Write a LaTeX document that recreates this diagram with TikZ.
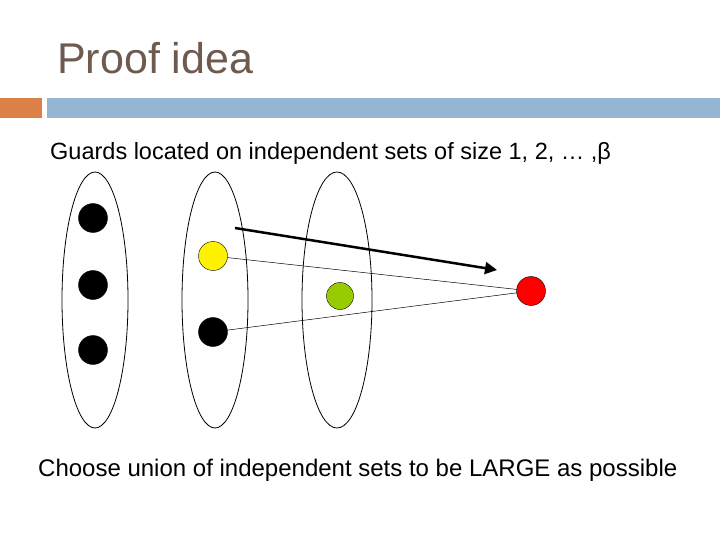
\documentclass[tikz,border=0pt]{standalone}
\usepackage{fontspec}
\setmainfont{Liberation Sans}
\usetikzlibrary{arrows.meta}
\definecolor{titlec}{HTML}{6E5A4E}
\definecolor{barorange}{HTML}{DD8047}
\definecolor{barblue}{HTML}{94B6D2}
\definecolor{gcol}{HTML}{99CC00}
\begin{document}
\begin{tikzpicture}[x=1pt,y=-1pt,
  dot/.style={circle,draw=black,minimum size=29pt,inner sep=0pt},
  setell/.style={draw=black,line width=0.8pt},
  thin/.style={draw=black,line width=0.5pt}]
\useasboundingbox (0,0) rectangle (720,540);
\node[anchor=base west,inner sep=0pt,text=titlec,font=\fontsize{43}{50}\selectfont] (title) at (57,74) {Proof idea};
\fill[barorange] (0,98) rectangle (42,118);
\fill[barblue] (47,98) rectangle (720,118);
\node[anchor=base west,inner sep=0pt,font=\fontsize{23.5}{27}\selectfont] (top) at (50,160) {Guards located on independent sets of size 1, 2, \dots\ ,β};
\node[anchor=base west,inner sep=0pt,font=\fontsize{24}{28}\selectfont] (bot) at (38,476) {Choose union of independent sets to be LARGE as possible};
\draw[setell] (95,300) ellipse [x radius=33, y radius=128];
\draw[setell] (215,300) ellipse [x radius=33, y radius=128];
\draw[setell] (337,300) ellipse [x radius=35, y radius=128];
\node[dot,fill=black] (a1) at (93,218) {};
\node[dot,fill=black] (a2) at (93,285) {};
\node[dot,fill=black] (a3) at (93,350) {};
\node[dot,fill=yellow] (y) at (213,256) {};
\node[dot,fill=black] (b2) at (213,332) {};
\node[dot,fill=gcol,minimum size=27pt] (g) at (340,296) {};
\node[dot,fill=red] (r) at (531,291) {};
\draw[thin] (y) -- (r);
\draw[thin] (b2) -- (r);
\coordinate (as) at (235,228);
\coordinate (ae) at (497,270);
\draw[line width=2.5pt,-{Triangle[length=12pt,width=12pt]}] (as) -- (ae);
\end{tikzpicture}
\end{document}
